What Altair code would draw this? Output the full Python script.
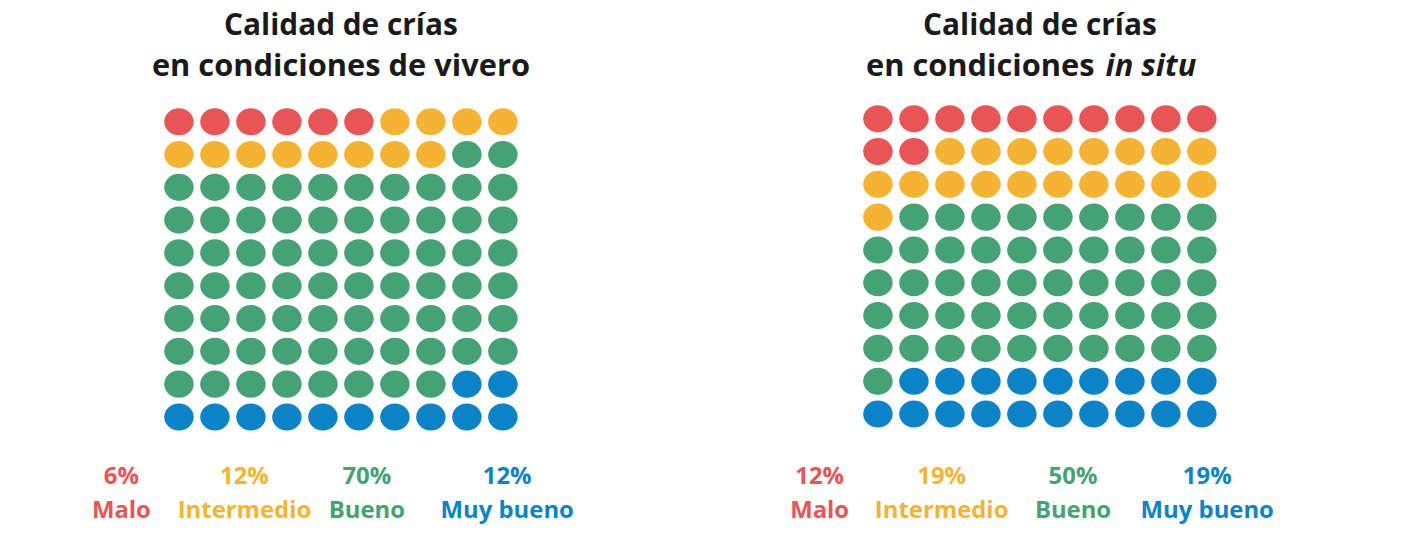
import altair as alt
import pandas as pd

categories = ["Malo", "Intermedio", "Bueno", "Muy bueno"]
colors = ["#E95455", "#F4B330", "#45A274", "#0A84C6"]
vivero_pct = [6, 12, 70, 12]
insitu_pct = [12, 19, 50, 19]
vivero_label_pos = [-1.6, 1.82, 5.22, 9.12]   # legend label column positions (grid units)
insitu_label_pos = [-1.62, 1.77, 5.42, 9.15]

def dots(pcts):
    seq = []
    for cat, n in zip(categories, pcts):
        seq += [cat] * n
    return pd.DataFrame({
        "col": [i % 10 for i in range(100)],
        "row": [i // 10 for i in range(100)],
        "cat": seq,
    })

def legend(pcts, pos):
    return pd.DataFrame({
        "cat": categories,
        "pct": [f"{p}%" for p in pcts],
        "x": pos,
    })

W, H = 695, 522
xs = alt.Scale(domain=[-4.75, 14.45], nice=False, zero=False)
ys = alt.Scale(domain=[-3.42, 12.4], nice=False, zero=False, reverse=True)
cs = alt.Scale(domain=categories, range=colors)
ellipse = "M-1,0 A1,0.92 0 1,0 1,0 A1,0.92 0 1,0 -1,0 Z"
FONT = "Open Sans"
TC = "#1a1a1a"

def panel(pcts, pos, title2, italic_part, dy):
    d = dots(pcts)
    d["row"] = d["row"] + dy
    pts = alt.Chart(d).mark_point(shape=ellipse, filled=True, opacity=1, size=880).encode(
        x=alt.X("col:Q", scale=xs, axis=None),
        y=alt.Y("row:Q", scale=ys, axis=None),
        color=alt.Color("cat:N", scale=cs, legend=None),
    )
    lg = legend(pcts, pos)
    lg["y1"] = 10.82
    lg["y2"] = 11.88
    t1 = alt.Chart(lg).mark_text(font=FONT, fontSize=24, fontWeight="bold").encode(
        x=alt.X("x:Q", scale=xs), y=alt.Y("y1:Q", scale=ys), text="pct:N",
        color=alt.Color("cat:N", scale=cs, legend=None))
    t2 = alt.Chart(lg).mark_text(font=FONT, fontSize=24, fontWeight="bold").encode(
        x=alt.X("x:Q", scale=xs), y=alt.Y("y2:Q", scale=ys), text="cat:N",
        color=alt.Color("cat:N", scale=cs, legend=None))
    tt = pd.DataFrame({"x": [4.5], "y": [-2.92], "t": ["Calidad de crías"]})
    ttl1 = alt.Chart(tt).mark_text(font=FONT, fontSize=30, fontWeight="bold", color=TC).encode(
        x=alt.X("x:Q", scale=xs), y=alt.Y("y:Q", scale=ys), text="t:N")
    layers = [pts, t1, t2, ttl1]
    a = pd.DataFrame({"x": [4.5], "y": [-1.68], "t": [title2]})
    if italic_part:
        b = pd.DataFrame({"x": [4.5], "y": [-1.68], "t": [italic_part]})
        layers.append(alt.Chart(a).mark_text(font=FONT, fontSize=31, fontWeight="bold", color=TC,
                                             align="right", dx=55).encode(
            x=alt.X("x:Q", scale=xs), y=alt.Y("y:Q", scale=ys), text="t:N"))
        layers.append(alt.Chart(b).mark_text(font=FONT, fontSize=31, fontWeight="bold", fontStyle="italic",
                                             color=TC, align="left", dx=66).encode(
            x=alt.X("x:Q", scale=xs), y=alt.Y("y:Q", scale=ys), text="t:N"))
    else:
        layers.append(alt.Chart(a).mark_text(font=FONT, fontSize=31, fontWeight="bold", color=TC).encode(
            x=alt.X("x:Q", scale=xs), y=alt.Y("y:Q", scale=ys), text="t:N"))
    return alt.layer(*layers).properties(width=W, height=H)

left = panel(vivero_pct, vivero_label_pos, "en condiciones de vivero", None, 0)
right = panel(insitu_pct, insitu_label_pos, "en condiciones", "in situ", -0.09)

chart = alt.hconcat(left, right, spacing=8).properties(
    padding=0
).configure_view(stroke=None)

chart.save("out.html", embed_options={"renderer": "svg", "actions": False})
